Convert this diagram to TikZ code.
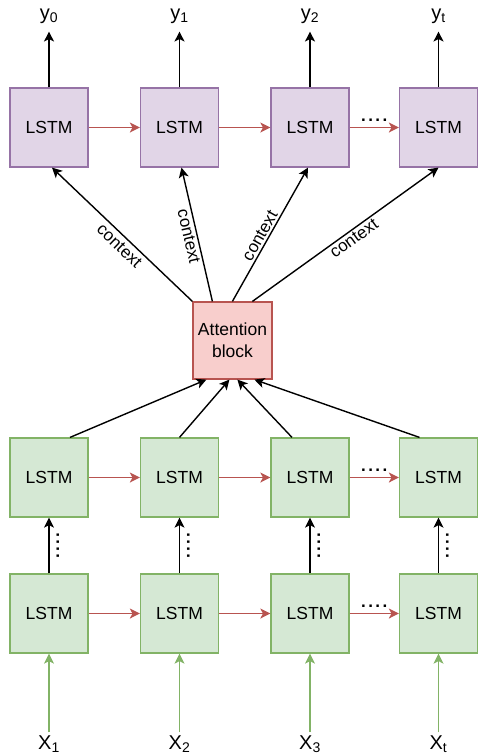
\documentclass[tikz,border=0pt]{standalone}
\usepackage{fontspec}
\setmainfont{Liberation Sans}
\usepackage{tikz}
\usetikzlibrary{arrows.meta}
\usepackage{xcolor}
\definecolor{ColA}{HTML}{B85450}
\definecolor{ColB}{HTML}{82B366}
\definecolor{ColC}{HTML}{9673A6}
\definecolor{FillA}{HTML}{F8CECC}
\definecolor{FillB}{HTML}{D5E8D4}
\definecolor{FillC}{HTML}{E1D5E7}
\newcommand{\FourDots}{.\kern2.4pt.\kern2.4pt.\kern2.4pt.}
\tikzstyle{NodeLSTM}=[rectangle,minimum width=78pt,minimum height=79pt,line width=1.2pt,
font=\fontsize{17.5}{22}\selectfont]
\tikzstyle{NodeDec}=[NodeLSTM,draw=ColC,fill=FillC]
\tikzstyle{NodeEnc}=[NodeLSTM,draw=ColB,fill=FillB]
\tikzstyle{NodeAtt}=[NodeLSTM,draw=ColA,fill=FillA,align=center,minimum height=77pt,minimum width=79pt]
\tikzstyle{NodeIO}=[font=\fontsize{20}{22}\selectfont,inner sep=3pt]
\tikzstyle{EdgeArrow}=[line width=1.4pt,-{Stealth[length=10pt,width=10pt,inset=2.5pt]}]
\tikzstyle{EdgeRec}=[EdgeArrow,ColA]
\tikzstyle{EdgeIn}=[EdgeArrow,ColB]
\tikzstyle{EdgeBlack}=[EdgeArrow,black]
\tikzstyle{LabelCtx}=[font=\fontsize{17}{20}\selectfont,sloped,inner sep=2pt]
\tikzstyle{Dots}=[font=\bfseries\fontsize{17}{20}\selectfont,text=black,inner sep=1pt]

\begin{document}
\begin{tikzpicture}[x=1pt,y=-1pt]
        \useasboundingbox(0,0)rectangle(477,755);
        % decoder
        \node[NodeDec](d1)at(49,127.5){LSTM};
        \node[NodeDec](d2)at(179.5,127.5){LSTM};
        \node[NodeDec](d3)at(310,127.5){LSTM};
        \node[NodeDec](d4)at(438.5,127.5){LSTM};
        % attention
        \node[NodeAtt](att)at(232.5,340.5){Attention\\block};
        % encoder
        \node[NodeEnc](e1)at(49,477.5){LSTM};
        \node[NodeEnc](e2)at(179.5,477.5){LSTM};
        \node[NodeEnc](e3)at(310,477.5){LSTM};
        \node[NodeEnc](e4)at(438.5,477.5){LSTM};
        \node[NodeEnc](m1)at(49,613.5){LSTM};
        \node[NodeEnc](m2)at(179.5,613.5){LSTM};
        \node[NodeEnc](m3)at(310,613.5){LSTM};
        \node[NodeEnc](m4)at(438.5,613.5){LSTM};
        % outputs and inputs
        \node[NodeIO](y0)at(49,16){y\textsubscript{0}};
        \node[NodeIO](y1)at(179.5,16){y\textsubscript{1}};
        \node[NodeIO](y2)at(310,16){y\textsubscript{2}};
        \node[NodeIO](yt)at(438.5,16){y\textsubscript{t}};
        \node[NodeIO](x1)at(49,744){X\textsubscript{1}};
        \node[NodeIO](x2)at(179.5,744){X\textsubscript{2}};
        \node[NodeIO](x3)at(310,744){X\textsubscript{3}};
        \node[NodeIO](xt)at(438.5,744){X\textsubscript{t}};
        \draw[EdgeBlack,shorten >=5pt](d1)--(y0);
        \draw[EdgeBlack,shorten >=5pt](d2)--(y1);
        \draw[EdgeBlack,shorten >=5pt](d3)--(y2);
        \draw[EdgeBlack,shorten >=5pt](d4)--(yt);
        \draw[EdgeIn](x1)--(m1);
        \draw[EdgeIn](x2)--(m2);
        \draw[EdgeIn](x3)--(m3);
        \draw[EdgeIn](xt)--(m4);
        % recurrence
        \draw[EdgeRec](d1)--(d2);
        \draw[EdgeRec](d2)--(d3);
        \draw[EdgeRec](d3)--(d4)node[Dots,midway,above=4pt]{\FourDots};
        \draw[EdgeRec](e1)--(e2);
        \draw[EdgeRec](e2)--(e3);
        \draw[EdgeRec](e3)--(e4)node[Dots,midway,above=4pt]{\FourDots};
        \draw[EdgeRec](m1)--(m2);
        \draw[EdgeRec](m2)--(m3);
        \draw[EdgeRec](m3)--(m4)node[Dots,midway,above=4pt]{\FourDots};
        % stacked layers
        \draw[EdgeBlack](m1)--(e1)node[Dots,midway,sloped,below=6pt]{\FourDots};
        \draw[EdgeBlack](m2)--(e2)node[Dots,midway,sloped,below=6pt]{\FourDots};
        \draw[EdgeBlack](m3)--(e3)node[Dots,midway,sloped,below=6pt]{\FourDots};
        \draw[EdgeBlack](m4)--(e4)node[Dots,midway,sloped,below=6pt]{\FourDots};
        % into attention
        \draw[EdgeBlack]([xshift=21pt]e1.north)--([xshift=14pt]att.south west);
        \draw[EdgeBlack](e2.north)--([xshift=37pt]att.south west);
        \draw[EdgeBlack]([xshift=-18pt]e3.north)--([xshift=45pt]att.south west);
        \draw[EdgeBlack]([xshift=-19pt]e4.north)--([xshift=62pt]att.south west);
        % context
        \draw[EdgeBlack](att.north west)--([xshift=3pt]d1.south)
            node[LabelCtx,pos=0.47,below=2pt]{context};
        \draw[EdgeBlack]([xshift=20pt]att.north west)--([xshift=2pt]d2.south)
            node[LabelCtx,pos=0.5,below]{context};
        \draw[EdgeBlack]([xshift=40pt]att.north west)--([xshift=-2pt]d3.south)
            node[LabelCtx,pos=0.46,above]{context};
        \draw[EdgeBlack]([xshift=60pt]att.north west)--(d4.south)
            node[LabelCtx,pos=0.52,below]{context};
    \end{tikzpicture}
\end{document}
